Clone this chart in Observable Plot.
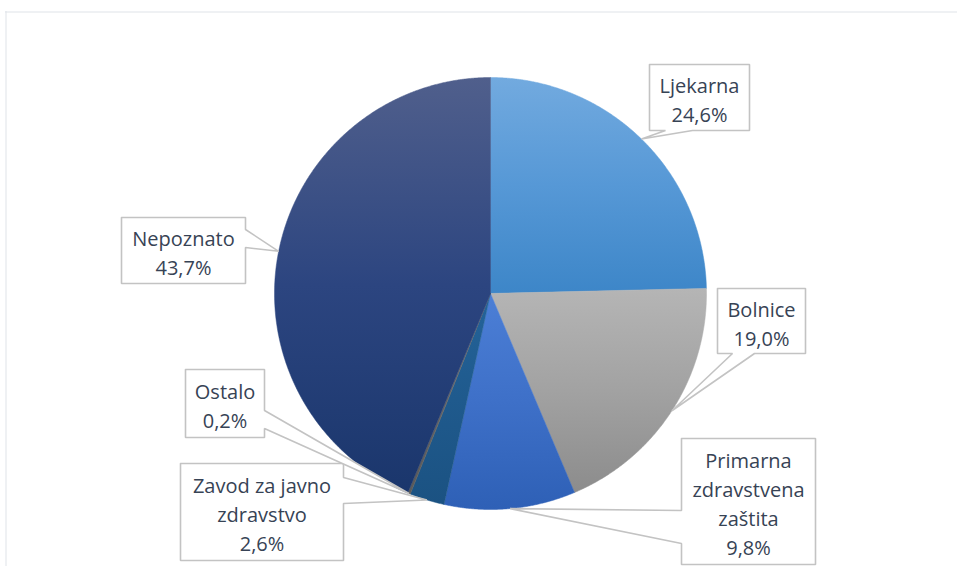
<!DOCTYPE html>
<html>
<head>
<meta charset="utf-8">
<script src="https://cdn.jsdelivr.net/npm/d3@7"></script>
<script src="https://cdn.jsdelivr.net/npm/@observablehq/plot@0.6"></script>
<style>
  html, body { margin: 0; padding: 0; background: #fff; overflow: hidden; }
  #chart svg { display: block; }
</style>
</head>
<body>
<div id="chart"></div>
<script>
// ---- data ----
const categories = ["Ljekarna", "Bolnice", "Primarna zdravstvena zaštita", "Zavod za javno zdravstvo", "Ostalo", "Nepoznato"];
const values = [24.6, 19.0, 9.8, 2.6, 0.2, 43.7];
const labelNames = ["Ljekarna", "Bolnice", "Primarna\nzdravstvena\nzaštita", "Zavod za javno\nzdravstvo", "Ostalo", "Nepoznato"];

// ---- styling (top, middle, bottom of each slice's vertical gradient) ----
const gradients = [
  ["#72aadf", "#5698d6", "#3d86c8"],
  ["#b5b5b5", "#a2a2a2", "#8c8c8c"],
  ["#4c7fd6", "#3e70c8", "#2e60b6"],
  ["#246399", "#1f5a8d", "#1b5282"],
  ["#727272", "#666666", "#5a5a5a"],
  ["#505f8c", "#2c4580", "#1a366c"]
];

// ---- layout (pixels) ----
const W = 957, H = 566;
const pie = {cx: 490, cy: 293, r: 216};
// callout boxes: x1,x2,y1,y2, side where the pointer attaches, pointer base along that side
const callouts = [
  {x1: 649, x2: 749, y1: 64, y2: 130, side: "bottom", b1: 665, b2: 692},
  {x1: 717, x2: 805, y1: 288, y2: 353, side: "bottom", b1: 732, b2: 754},
  {x1: 681, x2: 815, y1: 438, y2: 564, side: "left", b1: 510, b2: 543},
  {x1: 180, x2: 343, y1: 463, y2: 560, side: "right", b1: 477, b2: 503},
  {x1: 185, x2: 264, y1: 369, y2: 437, side: "right", b1: 410, b2: 428},
  {x1: 121, x2: 245, y1: 217, y2: 283, side: "right", b1: 229, b2: 247}
];

// ---- geometry from data ----
const arcs = d3.pie().sort(null).value(d => d)(values);
const px = a => pie.cx + pie.r * Math.sin(a);
const py = a => pie.cy - pie.r * Math.cos(a);

const slicePts = [];
arcs.forEach((a, i) => {
  const g = `url(#grad${i})`;
  slicePts.push({k: i, x: pie.cx, y: pie.cy, g});
  const n = Math.max(2, Math.ceil((a.endAngle - a.startAngle) / (Math.PI / 720)));
  for (let j = 0; j <= n; j++) {
    const t = a.startAngle + (a.endAngle - a.startAngle) * j / n;
    slicePts.push({k: i, x: px(t), y: py(t), g});
  }
  slicePts.push({k: i, x: pie.cx, y: pie.cy, g});
});

const calloutPts = [];
callouts.forEach((c, i) => {
  const mid = (arcs[i].startAngle + arcs[i].endAngle) / 2;
  const tip = [px(mid), py(mid)];
  let pts;
  if (c.side === "bottom") {
    pts = [[c.x1, c.y1], [c.x2, c.y1], [c.x2, c.y2], [c.b2, c.y2], tip, [c.b1, c.y2], [c.x1, c.y2], [c.x1, c.y1]];
  } else if (c.side === "right") {
    pts = [[c.x1, c.y1], [c.x2, c.y1], [c.x2, c.b1], tip, [c.x2, c.b2], [c.x2, c.y2], [c.x1, c.y2], [c.x1, c.y1]];
  } else {
    pts = [[c.x1, c.y1], [c.x2, c.y1], [c.x2, c.y2], [c.x1, c.y2], [c.x1, c.b2], tip, [c.x1, c.b1], [c.x1, c.y1]];
  }
  pts.forEach(p => calloutPts.push({k: i, x: p[0], y: p[1]}));
});

const fmt = v => v.toFixed(1).replace(".", ",") + "%";
const labels = callouts.map((c, i) => ({
  x: (c.x1 + c.x2) / 2,
  y: (c.y1 + c.y2) / 2 + 1,
  text: labelNames[i] + "\n" + fmt(values[i])
}));

const chart = Plot.plot({
  width: W,
  height: H,
  margin: 0,
  x: {domain: [0, W], range: [0, W], axis: null},
  y: {domain: [0, H], range: [0, H], axis: null},
  color: {type: "identity"},
  marks: [
    Plot.ruleX([5.5], {y1: 11, y2: H, stroke: "#dfe3e8", strokeWidth: 1}),
    Plot.ruleY([11.5], {x1: 5, x2: W, stroke: "#dfe3e8", strokeWidth: 1}),
    Plot.line(slicePts, {x: "x", y: "y", z: "k", fill: "g", stroke: "g", strokeWidth: 0.5, curve: "linear"}),
    Plot.line(calloutPts, {x: "x", y: "y", z: "k", fill: "white", stroke: "#c3c3c3", strokeWidth: 1.6, curve: "linear", strokeLinejoin: "miter"}),
    Plot.text(labels, {x: "x", y: "y", text: "text", fontSize: 20, lineHeight: 1.45, fill: "#374355", fontFamily: "Open Sans", textAnchor: "middle", lineAnchor: "middle"})
  ]
});

// gradient definitions
const defs = d3.select(chart).insert("defs", ":first-child");
gradients.forEach((g, i) => {
  const lg = defs.append("linearGradient").attr("id", `grad${i}`).attr("x1", 0).attr("y1", 0).attr("x2", 0).attr("y2", 1);
  lg.append("stop").attr("offset", "0%").attr("stop-color", g[0]);
  lg.append("stop").attr("offset", "50%").attr("stop-color", g[1]);
  lg.append("stop").attr("offset", "100%").attr("stop-color", g[2]);
});

document.getElementById("chart").appendChild(chart);
</script>
</body>
</html>
